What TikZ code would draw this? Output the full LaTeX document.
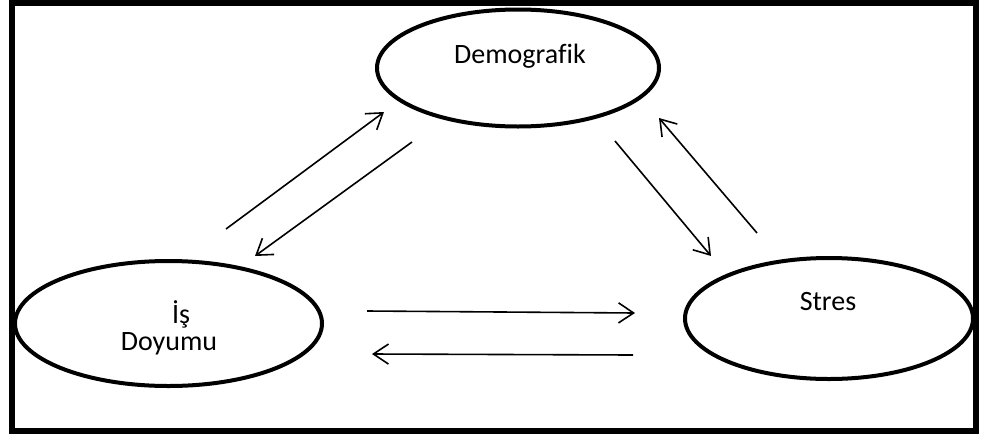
\documentclass[tikz,border=0pt]{standalone}
\usepackage{fontspec}
\setmainfont{Carlito}[Ligatures=NoCommon]
\usetikzlibrary{shapes.geometric,arrows.meta,calc}
\begin{document}
\begin{tikzpicture}[x=1pt,y=-1pt,
  frame/.style={draw=black,line width=6pt},
  oval/.style={draw=black,line width=4pt,ellipse,inner sep=0pt,fill=none},
  lbl/.style={font=\fontsize{28}{27}\selectfont,inner sep=0pt,align=center},
  link/.style={draw=black,line width=1.6pt,-{Straight Barb[length=15pt,width=20pt,line width=1.6pt]}}]
  \useasboundingbox (0,0) rectangle (981,434);
  \fill[white] (0,0) rectangle (981,434);
  \draw[frame] (12,2.5) rectangle (976,430.5);

  % the three factors
  \node[oval,minimum width=282pt,minimum height=117pt] (demo) at (518,68) {};
  \node[oval,minimum width=307pt,minimum height=125pt] (is) at (168.5,323.5) {};
  \node[oval,minimum width=288pt,minimum height=121pt] (stres) at (829,318.5) {};

  \node[lbl,anchor=base] (demoT) at (520,63) {Demografik};
  \node[lbl,anchor=base] (stresT) at (828,310) {Stres};
  \node[lbl,anchor=base] (isT1) at (181,323) {İş};
  \node[lbl,anchor=base] (isT2) at (169,350) {Doyumu};

  % arrow ends
  \coordinate (a1s) at (226,229); \coordinate (a1e) at (384,112);
  \coordinate (a2s) at (412,142); \coordinate (a2e) at (255,256);
  \coordinate (a3s) at (615,141); \coordinate (a3e) at (711,256);
  \coordinate (a4s) at (757,233); \coordinate (a4e) at (659,118);
  \coordinate (a5s) at (367,311); \coordinate (a5e) at (635,313);
  \coordinate (a6s) at (633,355); \coordinate (a6e) at (372,354);

  \draw[link] (a1s) -- (a1e);
  \draw[link] (a2s) -- (a2e);
  \draw[link] (a3s) -- (a3e);
  \draw[link] (a4s) -- (a4e);
  \draw[link] (a5s) -- (a5e);
  \draw[link] (a6s) -- (a6e);
\end{tikzpicture}
\end{document}
